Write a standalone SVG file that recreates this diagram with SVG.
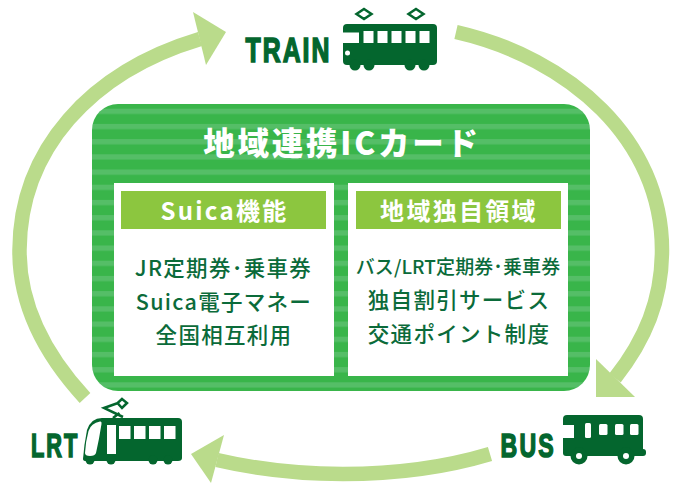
<svg xmlns="http://www.w3.org/2000/svg" width="678" height="483" viewBox="0 0 678 483">
<style>
.shaft{fill:none;stroke:#badb8b;stroke-width:14.5}
.head{fill:#badb8b}
.dk{fill:#04662e}
.wh{fill:#fff}
.veh{font-family:"Liberation Sans",Arial,sans-serif;font-weight:700;fill:#04662e;stroke:#04662e;stroke-width:1.6;font-kerning:none}
.cjk{font-family:"Noto Sans CJK JP","Noto Sans",sans-serif}
.title{font-size:31.5px;font-weight:900;fill:#fff;text-anchor:middle;letter-spacing:2.8px}
.hd{font-size:24px;font-weight:700;fill:#fff;text-anchor:middle;letter-spacing:2.3px}
.it{font-size:21.5px;font-weight:500;fill:#0b6b3a;text-anchor:middle;letter-spacing:1.3px}
.pan{fill:none;stroke:#04662e;stroke-width:2.5}
</style>
<defs>
<pattern id="st" patternUnits="userSpaceOnUse" x="0" y="108.7" width="20" height="15.2">
<rect width="20" height="15.2" fill="#39b54a"/><rect width="20" height="5.3" fill="#55be67"/>
</pattern>
</defs>
<g id="connectors">
<path class="shaft" d="M456,32 C570,58 662,140 662,250 C662,300 645,340 615,378"/>
<polygon class="head" points="596,359 596,397 635,397"/>
<path class="shaft" d="M490,454 C440,469 390,474 343,474 C300,474 260,470 217,460"/>
<polygon class="head" points="191,454 224,435 211,483"/>
<path class="shaft" d="M85,398 C50,360 19,310 19.5,250 C20,150 90,72 200,39"/>
<polygon class="head" points="226,32 193,12 206,65"/>
</g>
<g id="panel">
<rect x="92" y="104" width="498" height="287" rx="26" fill="url(#st)"/>
<text class="cjk title" x="342" y="155">地域連携ICカード</text>
</g>
<g id="suica">
<rect class="wh" x="114" y="183" width="220" height="193"/>
<rect x="121" y="191" width="205" height="38" fill="#8cc63f"/>
<text class="cjk hd" x="224.500" y="220">Suica機能</text>
<text class="cjk it" x="223.500" y="276">JR定期券･乗車券</text>
<text class="cjk it" x="224" y="310">Suica電子マネー</text>
<text class="cjk it" x="224" y="343">全国相互利用</text>
</g>
<g id="regional">
<rect class="wh" x="348" y="183" width="220" height="193"/>
<rect x="356" y="191" width="205" height="38" fill="#8cc63f"/>
<text class="cjk hd" x="459" y="220">地域独自領域</text>
<text class="cjk it" x="458" y="274" style="font-size:19px;letter-spacing:.1px">バス/LRT定期券･乗車券</text>
<text class="cjk it" x="459" y="308">独自割引サービス</text>
<text class="cjk it" x="459" y="342">交通ポイント制度</text>
</g>
<g id="train">
<text class="veh" transform="translate(245.500,61.500) scale(.72,1)" font-size="34.500" letter-spacing="2.800">TRAIN</text>
<path class="pan" d="M364,9 L371.500,14 L364,19 L356.500,14 Z M416,9 L423.500,14 L416,19 L408.500,14 Z"/>
<rect class="dk" x="343" y="24" width="94" height="41" rx="4"/>
<circle class="dk" cx="355" cy="65" r="5.500"/><circle class="dk" cx="369" cy="65" r="5.500"/><circle class="dk" cx="410" cy="65" r="5.500"/><circle class="dk" cx="424" cy="65" r="5.500"/>
<rect class="wh" x="342" y="32.500" width="17" height="10.500"/>
<rect class="wh" x="363.500" y="31" width="10" height="12"/><rect class="wh" x="377.500" y="31" width="10" height="12"/><rect class="wh" x="391.500" y="31" width="10" height="12"/><rect class="wh" x="405.500" y="31" width="10" height="12"/><rect class="wh" x="419.500" y="31" width="10" height="12"/>
<circle class="wh" cx="347.500" cy="53" r="2.500"/>
</g>
<g id="lrt">
<text class="veh" transform="translate(31,456.500) scale(.66,1)" font-size="33" letter-spacing="3">LRT</text>
<path class="pan" d="M122,399 L127,403 L122,408 L117.500,403 Z M118,403 L104,408 L123,417 M113,418 L119.500,413"/>
<path class="dk" d="M83,459 Q84,445 87,430 Q91,418 102,418 H178 Q182,418 182,422 V458 Q182,461 178,461 H86 Q83,461 83,459 Z"/>
<circle class="dk" cx="90" cy="460" r="4.500"/><circle class="dk" cx="111" cy="460" r="4.500"/><circle class="dk" cx="153" cy="460" r="4.500"/><circle class="dk" cx="168" cy="460" r="4.500"/>
<path class="wh" d="M85,453 Q85.500,442 88.500,431 Q91,423 100,421.500 Q102,421 101.500,424 Q99,440 96,453 Q95,456 90,456 Q85,456 85,453 Z"/>
<rect class="wh" x="107" y="425" width="9" height="29"/>
<rect class="wh" x="119" y="426" width="11.500" height="13"/><rect class="wh" x="134" y="426" width="11.500" height="13"/><rect class="wh" x="149" y="426" width="11.500" height="13"/><rect class="wh" x="164" y="426" width="11.500" height="13"/>
</g>
<g id="bus">
<text class="veh" transform="translate(500.500,456.500) scale(.7,1)" font-size="33" letter-spacing="3.200">BUS</text>
<rect class="dk" x="563" y="415" width="80" height="39" rx="4"/>
<rect class="dk" x="563" y="449" width="83" height="7" rx="3"/>
<rect class="wh" x="562" y="425" width="12" height="13"/>
<rect class="wh" x="585" y="423" width="6" height="15" rx="1.500"/><rect class="wh" x="599" y="424" width="8.500" height="11" rx="1.500"/><rect class="wh" x="615" y="424" width="8.500" height="11" rx="1.500"/><rect class="wh" x="630" y="424" width="8.500" height="11" rx="1.500"/>
<circle class="dk" cx="579" cy="456" r="8.500"/><circle class="dk" cx="626" cy="456" r="8.500"/>
<circle class="wh" cx="579" cy="456" r="3"/><circle class="wh" cx="626" cy="456" r="3"/>
</g>
</svg>
